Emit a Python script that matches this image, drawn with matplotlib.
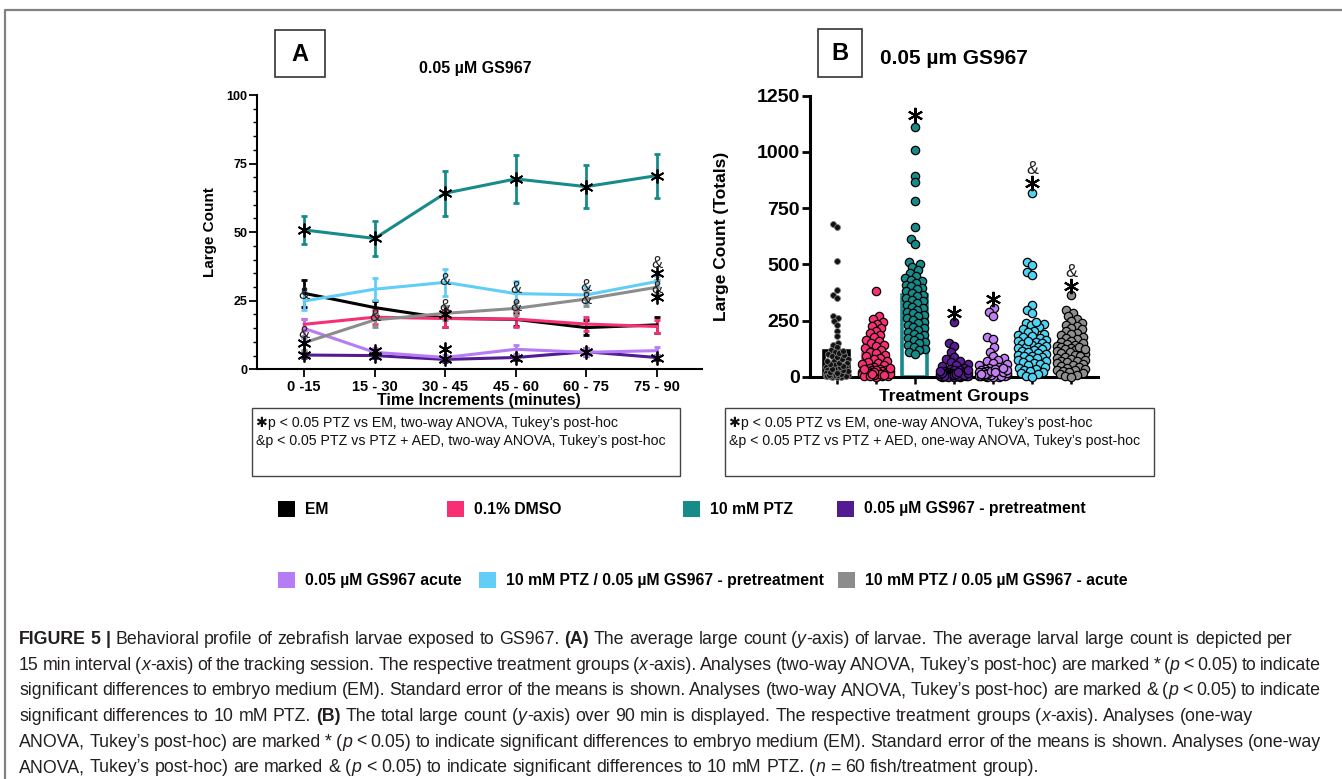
import numpy as np
import matplotlib
matplotlib.use("Agg")
import matplotlib.pyplot as plt
from matplotlib.patches import Rectangle
from matplotlib.lines import Line2D
from matplotlib.ticker import MultipleLocator
from matplotlib.font_manager import FontProperties, fontManager

W, H = 1342, 779

# ---------------- data ----------------
time_labels = ["0 -15", "15 - 30", "30 - 45", "45 - 60", "60 - 75", "75 - 90"]
group_names = ["EM", "0.1% DMSO", "10 mM PTZ", "0.05 µM GS967 - pretreatment",
               "0.05 µM GS967 acute", "10 mM PTZ / 0.05 µM GS967 - pretreatment",
               "10 mM PTZ / 0.05 µM GS967 - acute"]
group_colors = ["#000000", "#F72F74", "#178A8A", "#531B92", "#B67CF6", "#62CDF6", "#8C8C8C"]

# Panel A: mean large count per 15-min bin and SEM
mean_em = [27.7, 22.5, 18.6, 18.2, 15.2, 16.2]
mean_dmso = [16.4, 19.0, 18.5, 18.3, 16.5, 15.6]
mean_ptz = [50.8, 47.7, 64.2, 69.4, 66.6, 70.6]
mean_gs_pre = [5.2, 5.0, 3.6, 4.3, 6.4, 4.3]
mean_gs_acute = [14.9, 6.2, 4.3, 7.3, 6.2, 6.8]
mean_ptz_gs_pre = [24.9, 29.2, 31.7, 27.6, 27.1, 32.0]
mean_ptz_gs_acute = [9.7, 18.0, 20.4, 22.2, 25.6, 29.9]

sem_em = [5.0, 2.5, 3.0, 2.5, 2.7, 3.0]
sem_dmso = [2.0, 2.5, 3.0, 3.0, 2.5, 2.5]
sem_ptz = [5.0, 6.3, 8.2, 8.8, 7.7, 8.0]
sem_gs_pre = [1.0, 1.0, 0.8, 0.8, 1.5, 1.0]
sem_gs_acute = [3.5, 1.5, 1.0, 1.6, 1.5, 1.5]
sem_ptz_gs_pre = [3.3, 4.0, 5.0, 4.5, 3.0, 2.0]
sem_ptz_gs_acute = [2.5, 2.5, 2.5, 2.5, 2.5, 2.5]

# Panel B: total large count per fish and group means
tot_em = [680, 665, 515, 385, 365, 350, 268, 262, 248, 230, 205, 180, 150, 140, 130,
          120, 110, 100, 90, 80, 70, 60, 50, 45, 40, 35, 30, 25, 20, 15, 12, 10, 8, 5,
          3, 0, 0, 0, 2, 6, 2, 4, 6, 9, 12, 16, 20, 25, 30, 36, 42, 48, 55, 62, 70, 78,
          88, 95, 105, 115]
tot_dmso = [383, 268, 255, 245, 235, 225, 215, 205, 195, 185, 175, 165, 158, 150, 142,
            135, 128, 120, 112, 105, 98, 90, 84, 78, 72, 66, 60, 55, 50, 45, 40, 36, 32,
            28, 25, 22, 20, 18, 15, 12, 10, 8, 6, 4, 2, 0, 30, 26, 24, 18, 14, 10, 6, 3,
            1, 40, 35, 20, 12, 8]
tot_ptz = [1110, 1010, 895, 865, 783, 667, 612, 590, 510, 500, 488, 475, 460, 450, 440,
           432, 425, 418, 410, 402, 395, 388, 380, 372, 365, 358, 350, 342, 335, 328,
           320, 312, 305, 298, 290, 282, 275, 268, 260, 252, 245, 238, 230, 222, 215,
           208, 200, 192, 185, 178, 170, 162, 155, 148, 140, 132, 125, 118, 110, 100]
tot_gs_pre = [245, 148, 135, 112, 88, 80, 72, 65, 58, 52, 46, 40, 36, 32, 28, 25, 22, 20,
              18, 16, 14, 12, 10, 9, 8, 7, 6, 5, 4, 3, 2, 1, 0, 0, 0, 0, 1, 2, 3, 4, 5,
              6, 8, 10, 12, 15, 18, 20, 24, 30]
tot_gs_acute = [305, 290, 272, 175, 168, 132, 112, 90, 82, 75, 68, 60, 55, 50, 45, 40,
                36, 32, 28, 25, 22, 19, 16, 14, 12, 10, 8, 6, 5, 4, 3, 2, 1, 0, 0, 0, 2,
                4, 6, 8, 10, 14, 18, 22, 26, 30, 35, 40, 20, 12]
tot_ptz_gs_pre = [818, 512, 497, 467, 452, 320, 298, 283, 240, 235, 228, 220, 212, 205,
                  198, 192, 186, 180, 175, 170, 165, 160, 155, 150, 146, 142, 138, 134,
                  130, 126, 122, 118, 114, 110, 106, 102, 98, 94, 90, 86, 82, 78, 74,
                  70, 65, 60, 55, 50, 45, 40, 35, 30, 25, 20, 15, 10, 5, 0, 245, 160]
tot_ptz_gs_acute = [362, 295, 282, 270, 258, 248, 240, 232, 225, 218, 210, 203, 196, 190,
                    184, 178, 172, 166, 160, 155, 150, 145, 140, 136, 132, 128, 124, 120,
                    116, 112, 108, 104, 100, 96, 92, 88, 84, 80, 76, 72, 68, 64, 60, 56,
                    52, 48, 44, 40, 36, 32, 28, 24, 20, 16, 12, 8, 4, 0, 130, 125]
bar_means = [116, 99, 363, 27, 44, 166, 125]

means_a = [mean_em, mean_dmso, mean_ptz, mean_gs_pre, mean_gs_acute, mean_ptz_gs_pre, mean_ptz_gs_acute]
sems_a = [sem_em, sem_dmso, sem_ptz, sem_gs_pre, sem_gs_acute, sem_ptz_gs_pre, sem_ptz_gs_acute]
totals_b = [tot_em, tot_dmso, tot_ptz, tot_gs_pre, tot_gs_acute, tot_ptz_gs_pre, tot_ptz_gs_acute]

# significance marks (group, time bin, symbol, offset from mean)
marks_a = ([(2, i, "*", 0) for i in range(6)] + [(3, i, "*", 0) for i in range(6)] +
           [(4, 1, "*", 0.3), (4, 2, "*", 3.0),
            (6, 0, "*", 0), (6, 0, "&", 3.4), (6, 1, "&", 1.2), (6, 2, "*", -0.4),
            (6, 2, "&", 2.4), (6, 3, "&", 0.6), (6, 4, "&", -0.2), (6, 5, "&", -0.4),
            (6, 5, "*", -3.4),
            (5, 0, "&", 2.2), (5, 2, "&", 0.8), (5, 3, "&", 1.9), (5, 4, "&", 3.2),
            (5, 5, "*", 3.0), (5, 5, "&", 6.6)])
marks_b = [(2, "*", 1165), (3, "*", 285), (4, "*", 345), (5, "*", 862), (5, "&", 920),
           (6, "*", 405), (6, "&", 462)]

# ---------------- style ----------------
names = {f.name for f in fontManager.ttflist}
SANS = "Liberation Sans"
NARROW = "Liberation Sans Narrow" if "Liberation Sans Narrow" in names else SANS
plt.rcParams["font.family"] = [SANS, "DejaVu Sans"]

fig = plt.figure(figsize=(W / 100, H / 100), dpi=100)


def fx(x):
    return x / W


def fy(y):
    return 1 - y / H


# outer frame (top + left)
fig.add_artist(Line2D([fx(5), fx(5), 1], [0, fy(10), fy(10)], transform=fig.transFigure,
                      color="#808080", lw=1.6))

# ---------------- Panel A ----------------
axA = fig.add_axes([fx(257), fy(369.3), (701.7 - 257) / W, (369.3 - 95) / H])
xa = np.arange(len(time_labels))
for m, s, c in zip(means_a, sems_a, group_colors):
    axA.errorbar(xa, m, yerr=s, color=c, lw=2.2, elinewidth=2.0, capsize=2.2,
                 capthick=2.0, clip_on=False)
for g, i, sym, off in marks_a:
    yv = means_a[g][i] + off
    if sym == "*":
        axA.plot(xa[i], yv, marker=(6, 2, 0), ms=10, mew=1.3, color="black",
                 clip_on=False, zorder=5)
    else:
        axA.text(xa[i], yv, "&", ha="center", va="center", fontsize=12, color="#222222",
                 zorder=5)
axA.set_xlim(-0.67, 5.64)
axA.set_ylim(0, 100)
axA.set_xticks(xa)
axA.set_xticklabels(time_labels, fontsize=10.5, fontweight="bold", family=SANS)
axA.set_yticks([0, 25, 50, 75, 100])
axA.set_yticklabels(["0", "25", "50", "75", "100"], fontsize=9, fontweight="bold", family=NARROW)
axA.yaxis.set_minor_locator(MultipleLocator(5))
axA.tick_params(axis="y", which="major", length=6, width=1.3, pad=1)
axA.tick_params(axis="y", which="minor", length=3, width=1.0)
axA.tick_params(axis="x", length=6, width=1.3, pad=2)
for sp in ["top", "right"]:
    axA.spines[sp].set_visible(False)
for sp in ["left", "bottom"]:
    axA.spines[sp].set_linewidth(1.5)
axA.set_ylabel("Large Count", fontsize=11, fontweight="bold")
axA.yaxis.set_label_coords(-0.091, 0.5)
axA.set_xlabel("Time Increments (minutes)", fontsize=11.5, fontweight="bold")
axA.xaxis.set_label_coords(0.5, (369.3 - 401) / 274.3)
axA.xaxis.label.set_va("center")

# ---------------- Panel B ----------------
axB = fig.add_axes([fx(810), fy(376.7), 288 / W, (376.7 - 95.7) / H])
xb = np.arange(len(group_names))
axB.set_xlim(-0.68, 6.68)
axB.set_ylim(0, 1250)
bar_fill = ["white", "#D3F4EC", "white", "#6A33A6", "#C9A3F8", "#A6E5F8", "#A8A8A8"]
axB.bar(xb, bar_means, width=0.64, color=bar_fill, edgecolor=group_colors, linewidth=2.6,
        zorder=1)

# simple beeswarm layout in pixel space
ppx = axB.transData.transform((1, 0))[0] - axB.transData.transform((0, 0))[0]
ppy = axB.transData.transform((0, 1))[1] - axB.transData.transform((0, 0))[1]


def swarm(yvals, d, maxw):
    yp = np.asarray(yvals, float) * ppy
    order = np.argsort(yp)
    placed = []
    xs = np.zeros(len(yp))
    for i in order:
        y = yp[i]
        near = [(px, py) for px, py in placed if abs(py - y) < d]
        cands = [0.0]
        for px, py in near:
            dx = np.sqrt(d * d - (py - y) ** 2)
            cands += [px - dx, px + dx]
        cands = sorted(cands, key=lambda c: (abs(c), c))
        chosen = None
        for c in cands:
            if abs(c) > maxw:
                continue
            if all((c - px) ** 2 + (y - py) ** 2 >= d * d - 1e-6 for px, py in near):
                chosen = c
                break
        if chosen is None:
            grid = np.linspace(-maxw, maxw, 15)
            chosen = max(grid, key=lambda c: min((c - px) ** 2 + (y - py) ** 2 for px, py in near))
        xs[i] = chosen
        placed.append((chosen, y))
    return xs / ppx


point_fill = ["#111111", "#F72F74", "#178A8A", "#5A1C96", "#C27EF2", "#4FD3F2", "#8E8E8E"]
for k, vals in enumerate(totals_b):
    if k == 0:
        offs = swarm(vals, 4.6, 11)
        axB.scatter(xb[k] + offs, vals, s=18, c=point_fill[k], edgecolors="#7a7a7a",
                    linewidths=0.6, zorder=3, clip_on=False)
    else:
        offs = swarm(vals, 6.0, 14)
        axB.scatter(xb[k] + offs, vals, s=36, c=point_fill[k], edgecolors="black",
                    linewidths=0.9, zorder=3, clip_on=False)
for g, sym, yv in marks_b:
    if sym == "*":
        axB.plot(xb[g], yv, marker=(6, 2, 0), ms=11, mew=1.5, color="black", zorder=5,
                 clip_on=False)
    else:
        axB.text(xb[g], yv, "&", ha="center", va="center", fontsize=13, color="#222222",
                 zorder=5)
axB.set_xticks(xb)
axB.set_xticklabels([])
axB.set_yticks([0, 250, 500, 750, 1000, 1250])
axB.set_yticklabels(["0", "250", "500", "750", "1000", "1250"], fontsize=14, fontweight="bold")
axB.tick_params(axis="y", length=6, width=2.0, pad=1.5)
axB.tick_params(axis="x", length=5, width=1.8)
for sp in ["top", "right"]:
    axB.spines[sp].set_visible(False)
for sp in ["left", "bottom"]:
    axB.spines[sp].set_linewidth(2.2)
axB.set_ylabel("Large Count (Totals)", fontsize=12.5, fontweight="bold")
axB.yaxis.set_label_coords((729 - 810) / 288, 0.5)
axB.set_xlabel("Treatment Groups", fontsize=12.5, fontweight="bold")
axB.xaxis.set_label_coords(0.5, (376.7 - 397) / 281)
axB.xaxis.label.set_va("center")

# ---------------- panel letters and titles ----------------
for (x0, y0, x1, y1, letter) in [(275, 30, 325, 77, "A"), (818, 29, 862, 77, "B")]:
    fig.add_artist(Rectangle((fx(x0), fy(y1)), (x1 - x0) / W, (y1 - y0) / H,
                             transform=fig.transFigure, fill=False, edgecolor="#333333", lw=1.2))
    fig.text(fx((x0 + x1) / 2), fy((y0 + y1) / 2 + 1), letter, ha="center", va="center",
             fontsize=17, fontweight="bold")
fig.text(fx(475), fy(69), "0.05 µM GS967", ha="center", va="center", fontsize=11.5,
         fontweight="bold")
fig.text(fx(954), fy(59), "0.05 µm GS967", ha="center", va="center", fontsize=15,
         fontweight="bold")

# ---------------- significance legend boxes ----------------
box_lines = [["✱p < 0.05 PTZ vs EM, two-way ANOVA, Tukey’s post-hoc",
              "&p < 0.05 PTZ vs PTZ + AED, two-way ANOVA, Tukey’s post-hoc"],
             ["✱p < 0.05 PTZ vs EM, one-way ANOVA, Tukey’s post-hoc",
              "&p < 0.05 PTZ vs PTZ + AED, one-way ANOVA, Tukey’s post-hoc"]]
for (x0, x1), lines in zip([(252, 680), (725, 1154)], box_lines):
    fig.add_artist(Rectangle((fx(x0), fy(476)), (x1 - x0) / W, (476 - 408) / H,
                             transform=fig.transFigure, fill=False, edgecolor="#444444", lw=1.0))
    for j, t in enumerate(lines):
        fig.text(fx(x0 + 4), fy(423 + 18.5 * j), t, ha="left", va="center", fontsize=10.2,
                 family=[NARROW, "DejaVu Sans"], color="#111111")

# ---------------- colour legend ----------------
legend_pos = [(278, 509), (447, 509), (683, 509), (837, 509), (278, 580), (479, 580), (838, 580)]
for (sx, sy), name, col in zip(legend_pos, group_names, group_colors):
    fig.add_artist(Rectangle((fx(sx), fy(sy + 8)), 17 / W, 16 / H, transform=fig.transFigure,
                             facecolor=col, edgecolor="none"))
    fig.text(fx(sx + 27), fy(sy), name, ha="left", va="center", fontsize=11.3,
             fontweight="bold")

# ---------------- caption ----------------
renderer = fig.canvas.get_renderer()
CAP = 12.8


def fp_for(style):
    return FontProperties(family=SANS, size=CAP,
                          weight="bold" if style == "b" else "normal",
                          style="italic" if style == "i" else "normal")


def twidth(s, fp):
    w1 = renderer.get_text_width_height_descent("|" + s + "|", fp, ismath=False)[0]
    w0 = renderer.get_text_width_height_descent("||", fp, ismath=False)[0]
    return w1 - w0


caption = [
    ([("FIGURE 5", "b"), (" ", "n"), ("|", "b"), (" Behavioral profile of zebrafish larvae exposed to GS967. ", "n"),
      ("(A)", "b"), (" The average large count (", "n"), ("y", "i"),
      ("-axis) of larvae. The average larval large count is depicted per", "n")], False),
    ([("15 min interval (", "n"), ("x", "i"), ("-axis) of the tracking session. The respective treatment groups (", "n"),
      ("x", "i"), ("-axis). Analyses (two-way ANOVA, Tukey’s post-hoc) are marked * (", "n"), ("p", "i"),
      (" < 0.05) to indicate", "n")], True),
    ([("significant differences to embryo medium (EM). Standard error of the means is shown. Analyses (two-way ANOVA, Tukey’s post-hoc) are marked & (", "n"),
      ("p", "i"), (" < 0.05) to indicate", "n")], True),
    ([("significant differences to 10 mM PTZ. ", "n"), ("(B)", "b"), (" The total large count (", "n"), ("y", "i"),
      ("-axis) over 90 min is displayed. The respective treatment groups (", "n"), ("x", "i"),
      ("-axis). Analyses (one-way", "n")], False),
    ([("ANOVA, Tukey’s post-hoc) are marked * (", "n"), ("p", "i"),
      (" < 0.05) to indicate significant differences to embryo medium (EM). Standard error of the means is shown. Analyses (one-way", "n")], True),
    ([("ANOVA, Tukey’s post-hoc) are marked & (", "n"), ("p", "i"),
      (" < 0.05) to indicate significant differences to 10 mM PTZ. (", "n"), ("n", "i"),
      (" = 60 fish/treatment group).", "n")], False),
]
x_start, x_end = 19, 1321
for li, (runs, justify) in enumerate(caption):
    items = []
    for txt, st in runs:
        fp = fp_for(st)
        parts = txt.split(" ")
        for pi, part in enumerate(parts):
            if pi > 0:
                items.append(("sp", " ", fp, st))
            if part:
                items.append(("w", part, fp, st))
    nat = sum(twidth(t, fp) for _, t, fp, _ in items)
    nsp = sum(1 for k, *_ in items if k == "sp")
    spw = twidth(" ", fp_for("n"))
    extra = (x_end - x_start - nat) / nsp if (justify and nsp) else 0.0
    extra = max(extra, -0.45 * spw)
    x = x_start
    yb = 644 + 25.7 * li
    for kind, t, fp, st in items:
        w = twidth(t, fp)
        if kind == "w":
            fig.text(fx(x), fy(yb), t, ha="left", va="baseline", fontproperties=fp,
                     color="#231F20")
            x += w
        else:
            x += w + extra

fig.savefig("out.png", dpi=100)
